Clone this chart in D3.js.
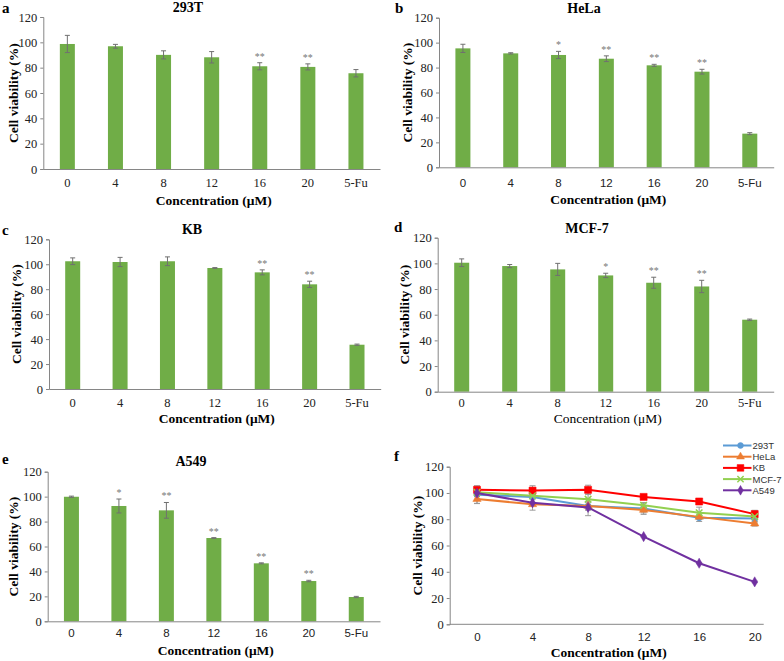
<!DOCTYPE html>
<html><head><meta charset="utf-8">
<script src="https://cdn.jsdelivr.net/npm/d3@7"></script>
<style>body{margin:0;background:#fff}svg{display:block}</style>
</head><body><svg id="c" width="784" height="661"></svg>
<script>
const concentrations = ["0","4","8","12","16","20","5-Fu"];
const lineConcentrations = ["0","4","8","12","16","20"];
const yTicks = [0,20,40,60,80,100,120];
const cellLines = ["293T","HeLa","KB","MCF-7","A549"];
const v293T = [98.7, 96.9, 90.1, 88.2, 81.1, 80.6, 75.6];
const e293T = [6.8, 1.5, 3.2, 4.5, 2.8, 2.4, 2.9];
const s293T = ["","","","","**","**",""];
const vHeLa = [95.4, 91.4, 90.1, 87.1, 81.8, 76.7, 27.0];
const eHeLa = [3.3, 0.5, 2.9, 2.3, 0.8, 1.9, 0.8];
const sHeLa = ["","","*","**","**","**",""];
const vKB = [102.4, 101.8, 102.4, 97.0, 93.5, 83.9, 35.5];
const eKB = [2.7, 3.7, 3.5, 0.3, 2.0, 2.5, 0.5];
const sKB = ["","","","","**","**",""];
const vMCF7 = [100.5, 97.9, 95.3, 90.6, 84.9, 82.0, 56.1];
const eMCF7 = [3.0, 1.2, 4.7, 1.7, 4.3, 4.8, 0.5];
const sMCF7 = ["","","","*","**","**",""];
const vA549 = [99.9, 92.5, 89.0, 66.8, 46.5, 32.3, 19.5];
const eA549 = [0.5, 5.6, 6.3, 0.3, 0.4, 0.6, 0.5];
const sA549 = ["","*","**","**","**","**",""];
const lineColors = ["#5b9bd5","#ed7d31","#ff0000","#92d050","#7030a0"];

const serif = "'Liberation Serif','Times New Roman',serif";
const sans = "'Liberation Sans',Arial,sans-serif";
const axisCol = "#868686";
const svg = d3.select("#c");
svg.append("rect").attr("width",784).attr("height",661).attr("fill","#fff");

const seriesVals = [v293T,vHeLa,vKB,vMCF7,vA549];
const seriesErr = [e293T,eHeLa,eKB,eMCF7,eA549];
const seriesStars = [s293T,sHeLa,sKB,sMCF7,sA549];

const layouts = [
 {letter:"a", lx:2, ly:13, ax:43.3, x1:380, y0:169, y1:17, tx:188, ty:12, xtY:187, xtitleY:205, ytX:13, xFont:serif, xTitleW:"bold"},
 {letter:"b", lx:395, ly:13, ax:439, x1:773.7, y0:167.3, y1:17.7, tx:584, ty:13, xtY:187, xtitleY:204, ytX:407, xFont:sans, xTitleW:"bold"},
 {letter:"c", lx:2, ly:235, ax:49, x1:380.7, y0:389, y1:239.3, tx:192, ty:234, xtY:407, xtitleY:423, ytX:16, xFont:serif, xTitleW:"bold"},
 {letter:"d", lx:394, ly:232, ax:437.7, x1:773.7, y0:391.7, y1:237.7, tx:587, ty:232.5, xtY:407, xtitleY:423, ytX:404, xFont:serif, xTitleW:"normal"},
 {letter:"e", lx:2, ly:464, ax:47.7, x1:380, y0:621.3, y1:471.7, tx:191, ty:465.5, xtY:637, xtitleY:655, ytX:13.3, xFont:sans, xTitleW:"bold"}
];

function yAxis(g, y, ax){
  g.append("g").attr("transform",`translate(${ax},0)`)
   .call(d3.axisLeft(y).tickValues(yTicks).tickSize(3).tickPadding(3))
   .call(s=>{s.select(".domain").attr("stroke",axisCol);
     s.selectAll(".tick line").attr("stroke",axisCol);
     s.selectAll("text").attr("font-family",serif).attr("font-size",12.5).attr("fill","#222");});
}
function yTitle(g, x, yc){
  g.append("text").attr("transform",`translate(${x},${yc}) rotate(-90)`).attr("text-anchor","middle")
   .attr("dominant-baseline","central").attr("font-family",serif).attr("font-weight","bold").attr("font-size",13.5).text("Cell viability (%)");
}

layouts.forEach((L,i)=>{
  const g = svg.append("g");
  const vals = seriesVals[i], errs = seriesErr[i], stars = seriesStars[i];
  const x = d3.scaleBand().domain(concentrations).range([L.ax, L.x1]);
  const y = d3.scaleLinear().domain([0,120]).range([L.y0, L.y1]);
  const bw = 15;
  g.selectAll("rect.bar").data(concentrations).join("rect")
    .attr("x",d=>x(d)+x.bandwidth()/2-bw/2).attr("width",bw)
    .attr("y",(d,j)=>y(vals[j])).attr("height",(d,j)=>y(0)-y(vals[j]))
    .attr("fill","#70ad47");
  concentrations.forEach((d,j)=>{
    const cx = x(d)+x.bandwidth()/2;
    const t = y(vals[j]+errs[j]), b = y(vals[j]-errs[j]);
    g.append("line").attr("x1",cx).attr("x2",cx).attr("y1",t).attr("y2",b).attr("stroke","#707070").attr("stroke-width",1);
    [t,b].forEach(yy=>g.append("line").attr("x1",cx-2.5).attr("x2",cx+2.5).attr("y1",yy).attr("y2",yy).attr("stroke","#707070").attr("stroke-width",1));
    if(stars[j]) g.append("text").attr("x",cx).attr("y",t-3).attr("text-anchor","middle")
      .attr("font-family",serif).attr("font-size",10).attr("fill","#777").text(stars[j]);
  });
  yAxis(g, y, L.ax);
  g.append("g").attr("transform",`translate(0,${L.y0})`)
   .call(d3.axisBottom(x).tickSize(0).tickPadding(0))
   .call(s=>{s.select(".domain").attr("stroke",axisCol);
     s.selectAll("text").attr("font-family",L.xFont).attr("font-size",L.xFont===sans?11.5:12.5).attr("fill","#222")
      .attr("dy",null).attr("y",L.xtY-L.y0);});
  g.append("text").attr("x",(L.ax+L.x1)/2+2).attr("y",L.xtitleY).attr("text-anchor","middle")
   .attr("font-family",serif).attr("font-weight",L.xTitleW).attr("font-size",13.5).text("Concentration (μM)");
  g.append("text").attr("x",L.tx).attr("y",L.ty).attr("text-anchor","middle")
   .attr("font-family",serif).attr("font-weight","bold").attr("font-size",14).text(cellLines[i]);
  g.append("text").attr("x",L.lx).attr("y",L.ly).attr("font-family",serif).attr("font-weight","bold").attr("font-size",15).text(L.letter);
  yTitle(g, L.ytX, (L.y0+L.y1)/2);
});

{
  const g = svg.append("g");
  const ax = 449.7, x1 = 763.7, y0 = 624.3, y1 = 466.7;
  const x = d3.scalePoint().domain(lineConcentrations).range([477, 754.7]);
  const y = d3.scaleLinear().domain([0,120]).range([y0,y1]);
  yAxis(g, y, ax);
  g.append("line").attr("x1",ax).attr("x2",x1).attr("y1",y0).attr("y2",y0).attr("stroke",axisCol);
  g.append("g").attr("transform",`translate(0,${y0})`)
   .call(d3.axisBottom(x).tickSize(0).tickPadding(0))
   .call(s=>{s.select(".domain").remove();
     s.selectAll("text").attr("font-family",sans).attr("font-size",11.5).attr("fill","#222").attr("dy",null).attr("y",641-y0);});
  const symbols = [d3.symbolCircle, d3.symbolTriangle, d3.symbolSquare, d3.symbolX, d3.symbolDiamond];
  const sizes = [30, 30, 50, 30, 30];
  const line = d3.line().x((d,j)=>x(lineConcentrations[j])).y(d=>y(d));
  cellLines.forEach((name,k)=>{
    const vals = seriesVals[k].slice(0,6), errs = seriesErr[k].slice(0,6);
    vals.forEach((v,j)=>{
      const cx = x(lineConcentrations[j]);
      const t=y(v+errs[j]), b=y(v-errs[j]);
      g.append("line").attr("x1",cx).attr("x2",cx).attr("y1",t).attr("y2",b).attr("stroke","#9a9a9a");
      [t,b].forEach(yy=>g.append("line").attr("x1",cx-3).attr("x2",cx+3).attr("y1",yy).attr("y2",yy).attr("stroke","#9a9a9a"));
    });
  });
  cellLines.forEach((name,k)=>{
    const vals = seriesVals[k].slice(0,6);
    g.append("path").attr("d",line(vals)).attr("fill","none").attr("stroke",lineColors[k]).attr("stroke-width",2);
    g.selectAll(null).data(vals).join("path")
      .attr("transform",(d,j)=>`translate(${x(lineConcentrations[j])},${y(d)})`)
      .attr("d",d3.symbol(symbols[k],sizes[k]))
      .attr("fill",lineColors[k]).attr("stroke",lineColors[k]).attr("stroke-width",k===3?1.5:0.5);
  });
  const lg = g.append("g");
  cellLines.forEach((name,k)=>{
    const yy = 445.5 + k*11.2;
    lg.append("line").attr("x1",723).attr("x2",751.5).attr("y1",yy).attr("y2",yy).attr("stroke",lineColors[k]).attr("stroke-width",2);
    lg.append("path").attr("transform",`translate(740.5,${yy})`).attr("d",d3.symbol(symbols[k],sizes[k]*0.9))
      .attr("fill",lineColors[k]).attr("stroke",lineColors[k]).attr("stroke-width",k===3?1.5:0.5);
    lg.append("text").attr("x",752.5).attr("y",yy).attr("dominant-baseline","central")
      .attr("font-family",sans).attr("font-size",9.5).attr("fill","#333").text(name);
  });
  g.append("text").attr("x",(ax+x1)/2+2).attr("y",657).attr("text-anchor","middle")
   .attr("font-family",serif).attr("font-weight","bold").attr("font-size",13.5).text("Concentration (μM)");
  g.append("text").attr("x",394).attr("y",461).attr("font-family",serif).attr("font-weight","bold").attr("font-size",15).text("f");
  yTitle(g, 417, (y0+y1)/2);
}
</script></body></html>
